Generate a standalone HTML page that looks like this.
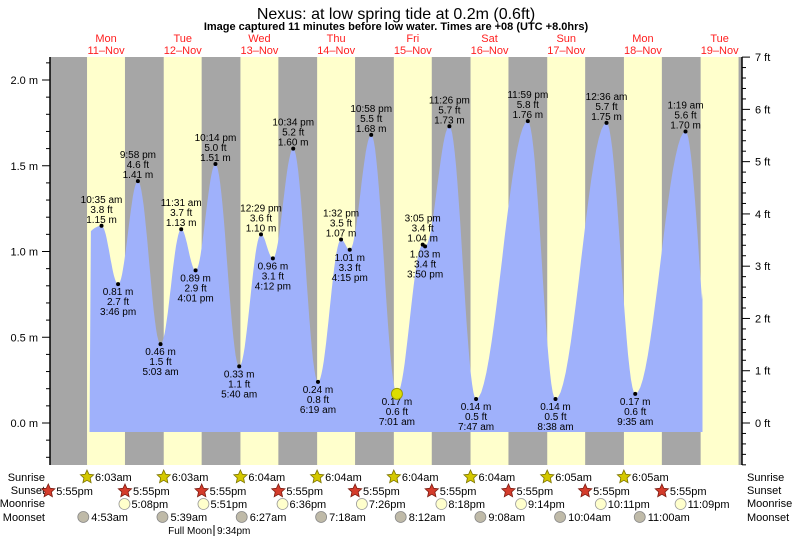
<!DOCTYPE html>
<html><head><meta charset="utf-8"><style>
body{margin:0;background:#fff;}
svg{display:block;font-family:"Liberation Sans",sans-serif;}
</style></head><body>
<svg id="s" width="793" height="539" xmlns="http://www.w3.org/2000/svg">
<text x="396" y="19" font-size="16" text-anchor="middle">Nexus: at low  spring tide at 0.2m (0.6ft)</text>
<text x="396" y="30" font-size="11" font-weight="bold" text-anchor="middle">Image captured 11 minutes before low water. Times are +08 (UTC +8.0hrs)</text>
<g id="g"></g>
</svg>
<script>
var g=document.getElementById('g'),NS="http://www.w3.org/2000/svg";
function el(t,a,txt){var e=document.createElementNS(NS,t);for(var k in a)e.setAttribute(k,a[k]);if(txt!=null)e.textContent=txt;g.appendChild(e);return e;}
var D=76.7,B=67.7;
function X(d,h){return B+(d-11)*D+h/24*D;}
function Y(m){return 423-m*171.5;}
var T=57,Bt=465,L=50,R=742;
el('rect',{x:L,y:T,width:R-L,height:Bt-T,fill:'#a6a6a6'});
var ss=17.917;
for(var d=11;d<=19;d++){var a=X(d,6.05),b=X(d,ss);a=Math.max(a,L);b=Math.min(b,R);if(b>a)el('rect',{x:a,y:T,width:b-a,height:Bt-T,fill:'#ffffcc'});}
var ex=[[10,23.5,1.00],[11,10.583,1.15],[11,15.767,.81],[11,21.967,1.41],[12,5.05,.46],[12,11.517,1.13],[12,16.017,.89],[12,22.233,1.51],[13,5.667,.33],[13,12.483,1.10],[13,16.2,.96],[13,22.567,1.60],[14,6.317,.24],[14,13.533,1.07],[14,16.25,1.01],[14,22.967,1.68],[15,7.017,.17],[15,15.083,1.04],[15,15.833,1.03],[15,23.433,1.73],[16,7.783,.14],[16,23.983,1.76],[17,8.633,.14],[18,0.6,1.75],[18,9.583,.17],[19,1.317,1.70],[19,9.9,.2]];
var pts=[];var x0=89.5,x1=702.5;
for(var i=0;i<ex.length-1;i++){var xa=X(ex[i][0],ex[i][1]),xb=X(ex[i+1][0],ex[i+1][1]),ha=ex[i][2],hb=ex[i+1][2];
for(var k=0;k<=20;k++){var t=k/20,x=xa+(xb-xa)*t;if(x<x0||x>x1)continue;var h=ha+(hb-ha)*(1-Math.cos(Math.PI*t))/2;pts.push(x.toFixed(1)+','+Y(h).toFixed(1));}}
var p='M'+x0+',432 L'+pts.join(' L')+' L'+x1+',293 L'+x1+',432 Z';
el('path',{d:p,fill:'#9fb1fb'});
function fmt(h){var hh=Math.floor(h),mm=Math.round((h-hh)*60);var ap=hh>=12?'pm':'am';var h12=hh%12;if(h12==0)h12=12;return h12+':'+(mm<10?'0':'')+mm+' '+ap;}
for(var i=1;i<ex.length-1;i++){var e=ex[i],x=X(e[0],e[1]),y=Y(e[2]);var hi=e[2]>ex[i-1][2];
el('circle',{cx:x,cy:y,r:2,fill:'#000'});
var ft=(e[2]/0.3048).toFixed(1)+' ft',m=e[2].toFixed(2)+' m',tm=fmt(e[1]);
var lines=hi?[[tm,-23],[ft,-13],[m,-3]]:[[m,11],[ft,21],[tm,31]];
lines.forEach(function(l){el('text',{x:x,y:y+l[1],'font-size':10,'text-anchor':'middle'},l[0]);});}
var lw=ex[16];el('circle',{cx:X(lw[0],lw[1]),cy:Y(lw[2]),r:5.5,fill:'#dddd00',stroke:'#999900'});
el('line',{x1:L,y1:T,x2:L,y2:Bt,stroke:'#000','stroke-width':1.5});
el('line',{x1:R,y1:T,x2:R,y2:Bt,stroke:'#000','stroke-width':1.5});
for(var i=-2;i<=21;i++){var v=i/10,y=Y(v);if(y<T||y>Bt)continue;var maj=i%5==0;el('line',{x1:maj?L-8:L-4,y1:y,x2:L,y2:y,stroke:'#000'});if(maj)el('text',{x:L-12,y:y+4,'font-size':11,'text-anchor':'end'},v.toFixed(1)+' m');}
for(var i=-5;i<=35;i++){var f=i/5,y=423-f*52.27;if(y<T-1||y>Bt)continue;var maj=i%5==0;el('line',{x1:R,y1:y,x2:maj?R+8:R+4,y2:y,stroke:'#000'});if(maj)el('text',{x:R+13,y:y+4,'font-size':11},f+' ft');}
var dn=['Mon','Tue','Wed','Thu','Fri','Sat','Sun','Mon','Tue'];
for(var d=11;d<=19;d++){var x=X(d,12);el('text',{x:x,y:42,'font-size':11,fill:'#ff2020','text-anchor':'middle'},dn[d-11]);el('text',{x:x,y:54,'font-size':11,fill:'#ff2020','text-anchor':'middle'},d+'\u2013Nov');}
var rows=[['Sunrise',481],['Sunset',494],['Moonrise',507],['Moonset',521]];
rows.forEach(function(r){el('text',{x:45,y:r[1],'font-size':11,'text-anchor':'end'},r[0]);el('text',{x:747,y:r[1],'font-size':11},r[0]);});
function star(cx,cy,fill,st){var s='';for(var i=0;i<10;i++){var a=-Math.PI/2+i*Math.PI/5,rr=i%2?3.3:7;s+=(cx+rr*Math.cos(a)).toFixed(1)+','+(cy+rr*Math.sin(a)).toFixed(1)+' ';}el('polygon',{points:s,fill:fill,stroke:st,'stroke-width':0.8});}
var srl=['6:03am','6:03am','6:04am','6:04am','6:04am','6:04am','6:05am','6:05am'];
for(var d=11;d<=18;d++){var x=X(d,6.05);star(x,477,'#d4c800','#7a7200');el('text',{x:x+8,y:481,'font-size':11},srl[d-11]);}
for(var d=10;d<=18;d++){var x=X(d,ss);star(x,491,'#d43c2c','#7a1a10');el('text',{x:x+8,y:495,'font-size':11},'5:55pm');}
var mr=['5:08pm','5:51pm','6:36pm','7:26pm','8:18pm','9:14pm','10:11pm','11:09pm'],mrh=[17.13,17.85,18.6,19.43,20.3,21.23,22.18,23.15];
var ms=['4:53am','5:39am','6:27am','7:18am','8:12am','9:08am','10:04am','11:00am'],msh=[4.88,5.65,6.45,7.3,8.2,9.13,10.07,11];
for(var i=0;i<8;i++){var x=X(11+i,mrh[i]);el('circle',{cx:x+2,cy:504,r:5.5,fill:'#ffffcc',stroke:'#999','stroke-width':0.8});el('text',{x:x+9,y:508,'font-size':11},mr[i]);
x=X(11+i,msh[i]);el('circle',{cx:x,cy:517,r:5.5,fill:'#bfbaa8',stroke:'#888','stroke-width':0.8});el('text',{x:x+8,y:521,'font-size':11},ms[i]);}
el('text',{x:212,y:534,'font-size':10,'text-anchor':'end'},'Full Moon');el('line',{x1:214,y1:525,x2:214,y2:536,stroke:'#000'});el('text',{x:217,y:534,'font-size':10},'9:34pm');
</script>
</body></html>
